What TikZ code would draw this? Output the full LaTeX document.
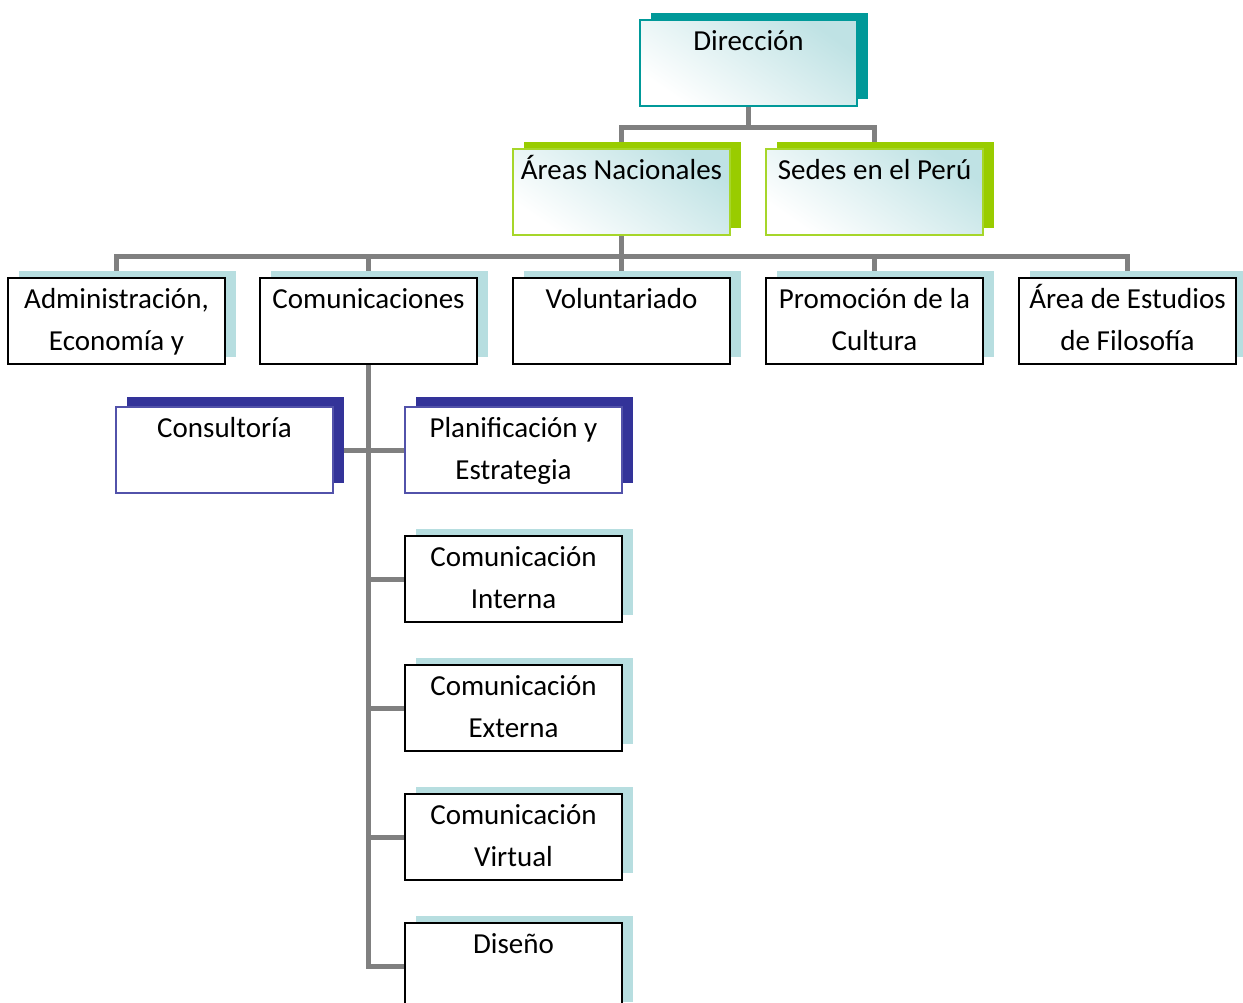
\documentclass[tikz,border=0pt]{standalone}
\usepackage{fontspec}
\setmainfont{Carlito}
\usetikzlibrary{shadows,calc,backgrounds}
\definecolor{tealc}{HTML}{009999}
\definecolor{greenc}{HTML}{99CC00}
\definecolor{greenb}{HTML}{A6D62A}
\definecolor{navyc}{HTML}{333399}
\definecolor{navyb}{HTML}{5252AA}
\definecolor{lblue}{HTML}{B7DEE0}
\definecolor{gradc}{HTML}{BFE2E4}
\definecolor{conng}{HTML}{808080}
\newcommand\boxline[4]{\node[txt] (#1) at ($(#2.north)+(0,#3)$) {#4};}
\begin{document}
\begin{tikzpicture}[x=1pt,y=-1pt,
  basebox/.style={rectangle, minimum width=217pt, minimum height=86pt, inner sep=0pt, outer sep=0pt},
  plainbox/.style={basebox, fill=white, draw=black, line width=1.6pt,
    general shadow={fill=lblue, draw=none, shadow xshift=10.5pt, shadow yshift=7.5pt}},
  tealbox/.style={basebox, draw=tealc, line width=1.5pt, top color=gradc, bottom color=white, shading angle=-35,
    general shadow={fill=tealc, draw=none, shadow xshift=10.5pt, shadow yshift=7.5pt}},
  greenbox/.style={basebox, draw=greenb, line width=1.5pt, top color=gradc, bottom color=white, shading angle=-35,
    general shadow={fill=greenc, draw=none, shadow xshift=10.5pt, shadow yshift=7.5pt}},
  navybox/.style={basebox, fill=white, draw=navyb, line width=1.5pt,
    general shadow={fill=navyc, draw=none, shadow xshift=10.5pt, shadow yshift=10pt}},
  txt/.style={anchor=base, font=\fontsize{29}{35}\selectfont, inner sep=0pt, text=black},
  conn/.style={draw=conng, line width=5pt}
]
\path[use as bounding box, clip] (0,0) rectangle (1243,1002);

% boxes
\node[tealbox] (dir) at (748.5,63) {};
\node[greenbox] (areas) at (621.5,192) {};
\node[greenbox] (sedes) at (874.5,192) {};
\node[plainbox] (adm) at (116.5,321) {};
\node[plainbox] (com) at (368.5,321) {};
\node[plainbox] (vol) at (621.5,321) {};
\node[plainbox] (prom) at (874.5,321) {};
\node[plainbox] (est) at (1127.5,321) {};
\node[navybox] (cons) at (224.5,450) {};
\node[navybox] (plan) at (513.5,450) {};
\node[plainbox] (int) at (513.5,579) {};
\node[plainbox] (ext) at (513.5,708) {};
\node[plainbox] (vir) at (513.5,837) {};
\node[plainbox] (dis) at (513.5,966) {};

% texts
\boxline{dir-t}{dir}{30}{Dirección}
\boxline{areas-t}{areas}{30}{Áreas Nacionales}
\boxline{sedes-t}{sedes}{30}{Sedes en el Perú}
\boxline{adm-t}{adm}{30}{Administración,}
\boxline{adm-t2}{adm}{72}{Economía y}
\boxline{com-t}{com}{30}{Comunicaciones}
\boxline{vol-t}{vol}{30}{Voluntariado}
\boxline{prom-t}{prom}{30}{Promoción de la}
\boxline{prom-t2}{prom}{72}{Cultura}
\boxline{est-t}{est}{30}{Área de Estudios}
\boxline{est-t2}{est}{72}{de Filosofía}
\boxline{cons-t}{cons}{30}{Consultoría}
\boxline{plan-t}{plan}{30}{Planificación y}
\boxline{plan-t2}{plan}{72}{Estrategia}
\boxline{int-t}{int}{30}{Comunicación}
\boxline{int-t2}{int}{72}{Interna}
\boxline{ext-t}{ext}{30}{Comunicación}
\boxline{ext-t2}{ext}{72}{Externa}
\boxline{vir-t}{vir}{30}{Comunicación}
\boxline{vir-t2}{vir}{72}{Virtual}
\boxline{dis-t}{dis}{30}{Diseño}

% connectors
\coordinate (j1) at (748.5,127);
\coordinate (j2) at (621.5,256);
\coordinate (j3) at (368.5,966);
\begin{pgfonlayer}{background}
\fill[white] (0,0) rectangle (1243,1002);
\draw[conn] (dir.south) -- (j1) -| (areas.north);
\draw[conn] (j1) -| (sedes.north);
\draw[conn] (areas.south) -- (j2);
\foreach \n in {adm,com,vol,prom,est} \draw[conn] (j2) -| (\n.north);
\draw[conn] (com.south) -- (j3) -- (dis.west);
\draw[conn] (cons.east) -- (plan.west);
\foreach \n in {int,ext,vir} \draw[conn] (\n.west) -- (\n.west -| com.south);
\end{pgfonlayer}
\end{tikzpicture}
\end{document}
